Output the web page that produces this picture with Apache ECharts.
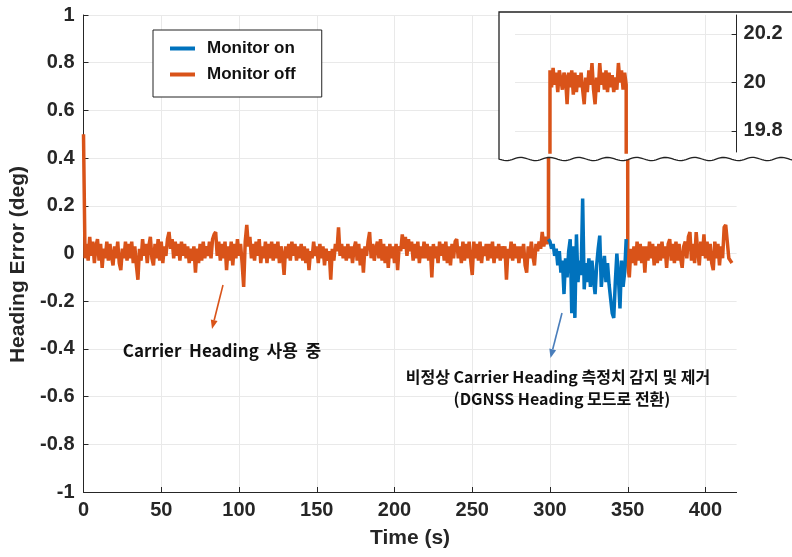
<!DOCTYPE html>
<html>
<head>
<meta charset="utf-8">
<script src="https://cdn.jsdelivr.net/npm/echarts@6/dist/echarts.min.js"></script>
<style>
  html, body { margin: 0; padding: 0; background: #ffffff; }
  #chart { width: 792px; height: 557px; }
</style>
</head>
<body>
<div id="chart"></div>
<script>
// Heading error samples, 1 s apart.
// Monitor off: t = 0 .. 299 s (normal carrier heading)
const monitorOffBefore = [
  0.50, -0.02, 0.04, -0.03, 0.07, -0.01, 0.05, -0.04, 0.03, 0.06,
  -0.03, 0.04, -0.06, 0.02, -0.02, 0.05, -0.03, 0.04, -0.01, -0.05,
  0.03, -0.02, 0.05, -0.04, -0.07, 0.02, -0.02, 0.05, -0.03, 0.04,
  -0.02, 0.05, -0.04, 0.03, -0.05, -0.11, 0.02, -0.03, 0.06, -0.01,
  0.04, -0.04, 0.03, 0.07, -0.02, -0.05, 0.04, -0.02, 0.06, -0.03,
  0.05, -0.04, 0.03, -0.01, 0.06, 0.09, 0.02, 0.06, -0.02, 0.05,
  -0.01, 0.04, -0.03, 0.05, -0.01, 0.04, -0.02, 0.03, -0.04, 0.02,
  -0.03, 0.03, -0.08, 0.02, -0.04, 0.04, -0.03, 0.05, -0.02, 0.03,
  -0.01, 0.05, -0.02, 0.06, 0.08, 0.09, -0.01, 0.05, -0.03, 0.04,
  -0.02, 0.05, -0.07, 0.03, -0.03, 0.05, -0.05, 0.04, -0.02, 0.06,
  -0.01, 0.04, -0.04, -0.14, 0.05, 0.12, 0.03, 0.07, -0.02, 0.04,
  -0.03, 0.05, -0.01, 0.06, -0.04, 0.03, -0.02, 0.05, -0.04, 0.04,
  -0.02, 0.05, -0.03, 0.04, -0.02, 0.05, -0.04, 0.03, -0.01, -0.09,
  0.03, -0.02, 0.04, -0.03, 0.05, -0.01, 0.04, -0.03, 0.03, -0.02,
  0.04, -0.03, 0.03, -0.04, 0.02, -0.07, 0.01, -0.02, 0.05, -0.01,
  0.03, -0.04, 0.04, -0.02, 0.03, -0.05, 0.02, -0.03, 0.01, -0.11,
  0.02, -0.03, 0.04, 0.01, 0.11, -0.01, 0.04, -0.02, 0.03, -0.03,
  0.04, -0.02, 0.03, -0.04, 0.02, 0.05, -0.03, 0.04, -0.05, 0.02,
  -0.08, 0.03, -0.01, 0.05, 0.09, -0.02, 0.04, -0.03, 0.02, 0.05,
  -0.02, 0.06, -0.03, 0.04, -0.04, 0.03, -0.06, 0.04, -0.02, 0.03,
  -0.04, 0.04, -0.07, 0.03, 0.01, 0.08, 0.02, 0.07, -0.01, 0.06,
  0.01, 0.05, -0.03, 0.04, -0.02, 0.05, -0.04, 0.03, -0.02, 0.05,
  -0.02, 0.04, -0.03, 0.03, -0.10, 0.04, -0.02, 0.03, -0.04, 0.05,
  -0.01, 0.04, -0.03, 0.05, -0.04, 0.03, -0.05, 0.04, -0.02, 0.05,
  0.06, -0.02, 0.03, -0.04, 0.05, -0.03, 0.04, -0.02, 0.05, -0.03,
  -0.09, 0.05, -0.02, 0.04, -0.03, 0.05, -0.04, 0.03, -0.01, 0.04,
  -0.03, 0.04, -0.02, 0.05, -0.04, 0.03, -0.02, 0.04, -0.03, 0.03,
  -0.02, 0.03, -0.11, 0.02, -0.02, 0.05, -0.03, 0.04, -0.02, 0.03,
  -0.04, 0.03, -0.02, 0.04, -0.05, -0.08, 0.03, -0.02, 0.05, -0.01,
  -0.05, 0.04, 0.01, 0.05, 0.02, 0.09, 0.03, 0.07, 0.04, 0.06
];
// Monitor off: t = 300 .. 349 s (faulty carrier heading, ~20 deg error)
const monitorOffFault = [
  20.05, 19.98, 20.06, 19.99, 20.04, 19.96, 20.05, 20.01, 19.97, 20.04,
  20.02, 19.91, 20.04, 19.98, 20.05, 19.95, 20.04, 19.96, 20.03, 19.98,
  20.04, 19.97, 19.91, 20.02, 19.96, 20.05, 19.99, 20.08, 19.97, 19.91,
  20.02, 19.96, 20.08, 19.99, 20.04, 19.97, 20.05, 19.96, 20.04, 19.98,
  20.03, 19.96, 20.02, 19.97, 20.08, 20.00, 20.05, 19.97, 20.04, 19.99
];
// Monitor off: t = 350 .. 417 s
const monitorOffAfter = [
  -0.05, -0.10, 0.02, -0.04, 0.03, -0.05, 0.05, -0.03, 0.04, -0.04,
  0.03, -0.08, 0.03, -0.03, 0.05, -0.02, 0.04, -0.05, 0.03, -0.04,
  0.04, -0.03, 0.05, -0.02, 0.03, -0.06, 0.04, 0.06, -0.03, 0.04,
  -0.04, 0.05, -0.03, 0.04, -0.02, -0.06, 0.03, 0.05, -0.02, 0.07,
  0.09, -0.03, 0.04, -0.04, 0.09, 0.01, -0.05, 0.05, -0.01, 0.08,
  -0.02, 0.05, -0.03, 0.04, -0.04, -0.07, 0.05, -0.02, 0.04, -0.05,
  0.03, -0.02, 0.11, 0.12, 0.05, -0.02, -0.03, -0.04
];
// Monitor on: t = 299 .. 349 s (DGNSS heading used while carrier heading is rejected)
const monitorOnStart = 299;
const monitorOnFault = [
  0.06,
  0.05, 0.02, 0.04, -0.01, 0.02, -0.05, 0.01, -0.08, -0.03, -0.17,
  -0.02, -0.10, 0.01, 0.06, -0.25, 0.03, -0.27, 0.08, -0.12, -0.03,
  -0.09, 0.23, -0.15, -0.04, -0.12, -0.02, -0.14, -0.03, -0.11, -0.17,
  -0.05, 0.02, 0.075, -0.14, -0.06, -0.01, -0.12, -0.04, -0.13, -0.19,
  -0.25, -0.27, -0.12, 0.00, -0.10, -0.23, -0.03, -0.14, -0.08, 0.06
];

const xTicks = [0, 50, 100, 150, 200, 250, 300, 350, 400];
const insetXTicks = [300, 350, 400];
const insetYTicks = [19.8, 20, 20.2];
const seriesNames = ['Monitor on', 'Monitor off'];
const annotationNormal = 'Carrier  Heading  사용  중';
const annotationFault = ['비정상 Carrier Heading 측정치 감지 및 제거', '(DGNSS Heading 모드로 전환)'];

const ORANGE = '#D95319';
const BLUE = '#0072BD';
const AXIS = '#262626';
const GRID = '#e9e9e9';
const LATIN = 'Liberation Sans, Arial, sans-serif';
const KOREAN = '"Noto Sans CJK KR", "Noto Sans", sans-serif';

const withTime = (start, vals) => vals.map((v, i) => [start + i, v]);
const offData = withTime(0, monitorOffBefore.concat(monitorOffFault, monitorOffAfter));
const onData = withTime(monitorOnStart, monitorOnFault);

const fmt = v => String(Math.round(v * 10) / 10);
const tickFont = { color: AXIS, fontSize: 20, fontWeight: 'bold', fontFamily: LATIN };
const titleFont = { color: AXIS, fontSize: 21, fontWeight: 'bold', fontFamily: LATIN };

// inset frame: white panel with a wavy "axis break" bottom edge
const boxL = 499, boxT = 12, boxR = 800, boxB = 159;
const boxPts = [[boxL, boxB], [boxL, boxT], [boxR, boxT], [boxR, boxB]];
for (let x = boxR; x >= boxL; x -= 2) {
  boxPts.push([x, boxB + 1.6 * Math.sin((x - boxL) / 29 * 2 * Math.PI)]);
}

function arrow(x1, y1, x2, y2, color) {
  const a = Math.atan2(y2 - y1, x2 - x1);
  const L = 9, W = 3.5;
  const bx = x2 - L * Math.cos(a), by = y2 - L * Math.sin(a);
  return [
    { type: 'line', z: 40, shape: { x1, y1, x2: bx, y2: by }, style: { stroke: color, lineWidth: 1.6 } },
    { type: 'polygon', z: 40, shape: { points: [[x2, y2],
        [bx + W * Math.sin(a), by - W * Math.cos(a)],
        [bx - W * Math.sin(a), by + W * Math.cos(a)]] }, style: { fill: color } }
  ];
}

const chart = echarts.init(document.getElementById('chart'));
chart.setOption({
  animation: false,
  backgroundColor: '#ffffff',
  grid: [
    { left: 83.5, right: 55.4, top: 15, bottom: 65 },
    { left: 515, right: 55.4, top: 15, bottom: 405 }
  ],
  legend: {
    data: seriesNames,
    orient: 'vertical',
    left: 153, top: 30,
    padding: [10, 26, 14, 17],
    itemGap: 9,
    itemWidth: 25, itemHeight: 4,
    icon: 'rect',
    backgroundColor: '#ffffff',
    borderColor: '#222222', borderWidth: 1,
    borderRadius: 0,
    textStyle: { color: '#111', fontSize: 17, fontWeight: 'bold', fontFamily: LATIN, padding: [0, 0, 0, 7] }
  },
  xAxis: [
    {
      type: 'value', gridIndex: 0, min: 0, max: 420,
      name: 'Time (s)', nameLocation: 'middle', nameGap: 36,
      nameTextStyle: titleFont,
      axisLine: { show: true, onZero: false, lineStyle: { color: AXIS, width: 1 } },
      axisTick: { show: true, inside: true, length: 5, customValues: xTicks, lineStyle: { color: AXIS } },
      axisLabel: { ...tickFont, margin: 8, customValues: xTicks },
      splitLine: { show: true, lineStyle: { color: GRID, width: 1 } }
    },
    {
      type: 'value', gridIndex: 1, min: 277.5, max: 420, z: 20,
      axisLine: { show: false },
      axisTick: { show: false, customValues: insetXTicks },
      axisLabel: { show: false, customValues: insetXTicks },
      splitLine: { show: true, lineStyle: { color: GRID, width: 1 } }
    }
  ],
  yAxis: [
    {
      type: 'value', gridIndex: 0, min: -1, max: 1, interval: 0.2,
      name: 'Heading Error (deg)', nameLocation: 'middle', nameGap: 53,
      nameTextStyle: { ...titleFont, padding: [0, 22, 0, 0] },
      axisLine: { show: true, onZero: false, lineStyle: { color: AXIS, width: 1 } },
      axisTick: { show: true, inside: true, length: 5, lineStyle: { color: AXIS } },
      axisLabel: { ...tickFont, margin: 9, formatter: fmt },
      splitLine: { show: true, lineStyle: { color: GRID, width: 1 } }
    },
    {
      type: 'value', gridIndex: 1, position: 'right', min: 19.713, max: 20.278, z: 20,
      axisLine: { show: true, lineStyle: { color: AXIS, width: 1 } },
      axisTick: { show: true, inside: true, length: 5, customValues: insetYTicks, lineStyle: { color: AXIS } },
      axisLabel: { ...tickFont, margin: 7, customValues: insetYTicks, formatter: fmt },
      splitLine: { show: true, lineStyle: { color: GRID, width: 1 } }
    }
  ],
  series: [
    {
      name: seriesNames[1], type: 'line', xAxisIndex: 0, yAxisIndex: 0, z: 2,
      data: offData, showSymbol: false, symbol: 'none', clip: true,
      lineStyle: { color: ORANGE, width: 3.5 }, itemStyle: { color: ORANGE }
    },
    {
      name: seriesNames[0], type: 'line', xAxisIndex: 0, yAxisIndex: 0, z: 3,
      data: onData, showSymbol: false, symbol: 'none', clip: true,
      lineStyle: { color: BLUE, width: 3.5 }, itemStyle: { color: BLUE }
    },
    {
      name: 'inset', type: 'line', xAxisIndex: 1, yAxisIndex: 1, z: 21,
      data: offData, showSymbol: false, symbol: 'none', clip: true,
      lineStyle: { color: ORANGE, width: 3.5 }, itemStyle: { color: ORANGE }
    }
  ],
  graphic: [
    { type: 'polygon', z: 10, shape: { points: boxPts },
      style: { fill: '#ffffff', stroke: '#222222', lineWidth: 1.3 } },
    ...arrow(223, 285, 212, 329, ORANGE),
    ...arrow(562, 313, 550.5, 358, '#4A7EBB'),
    { type: 'text', z: 40, x: 222, y: 351,
      style: { text: annotationNormal, fill: '#111', font: 'bold 17px ' + KOREAN, align: 'center', verticalAlign: 'middle' } },
    { type: 'text', z: 40, x: 558, y: 377,
      style: { text: annotationFault[0], fill: '#111', font: 'bold 16px ' + KOREAN, align: 'center', verticalAlign: 'middle' } },
    { type: 'text', z: 40, x: 562, y: 399,
      style: { text: annotationFault[1], fill: '#111', font: 'bold 16px ' + KOREAN, align: 'center', verticalAlign: 'middle' } }
  ]
});
</script>
</body>
</html>
